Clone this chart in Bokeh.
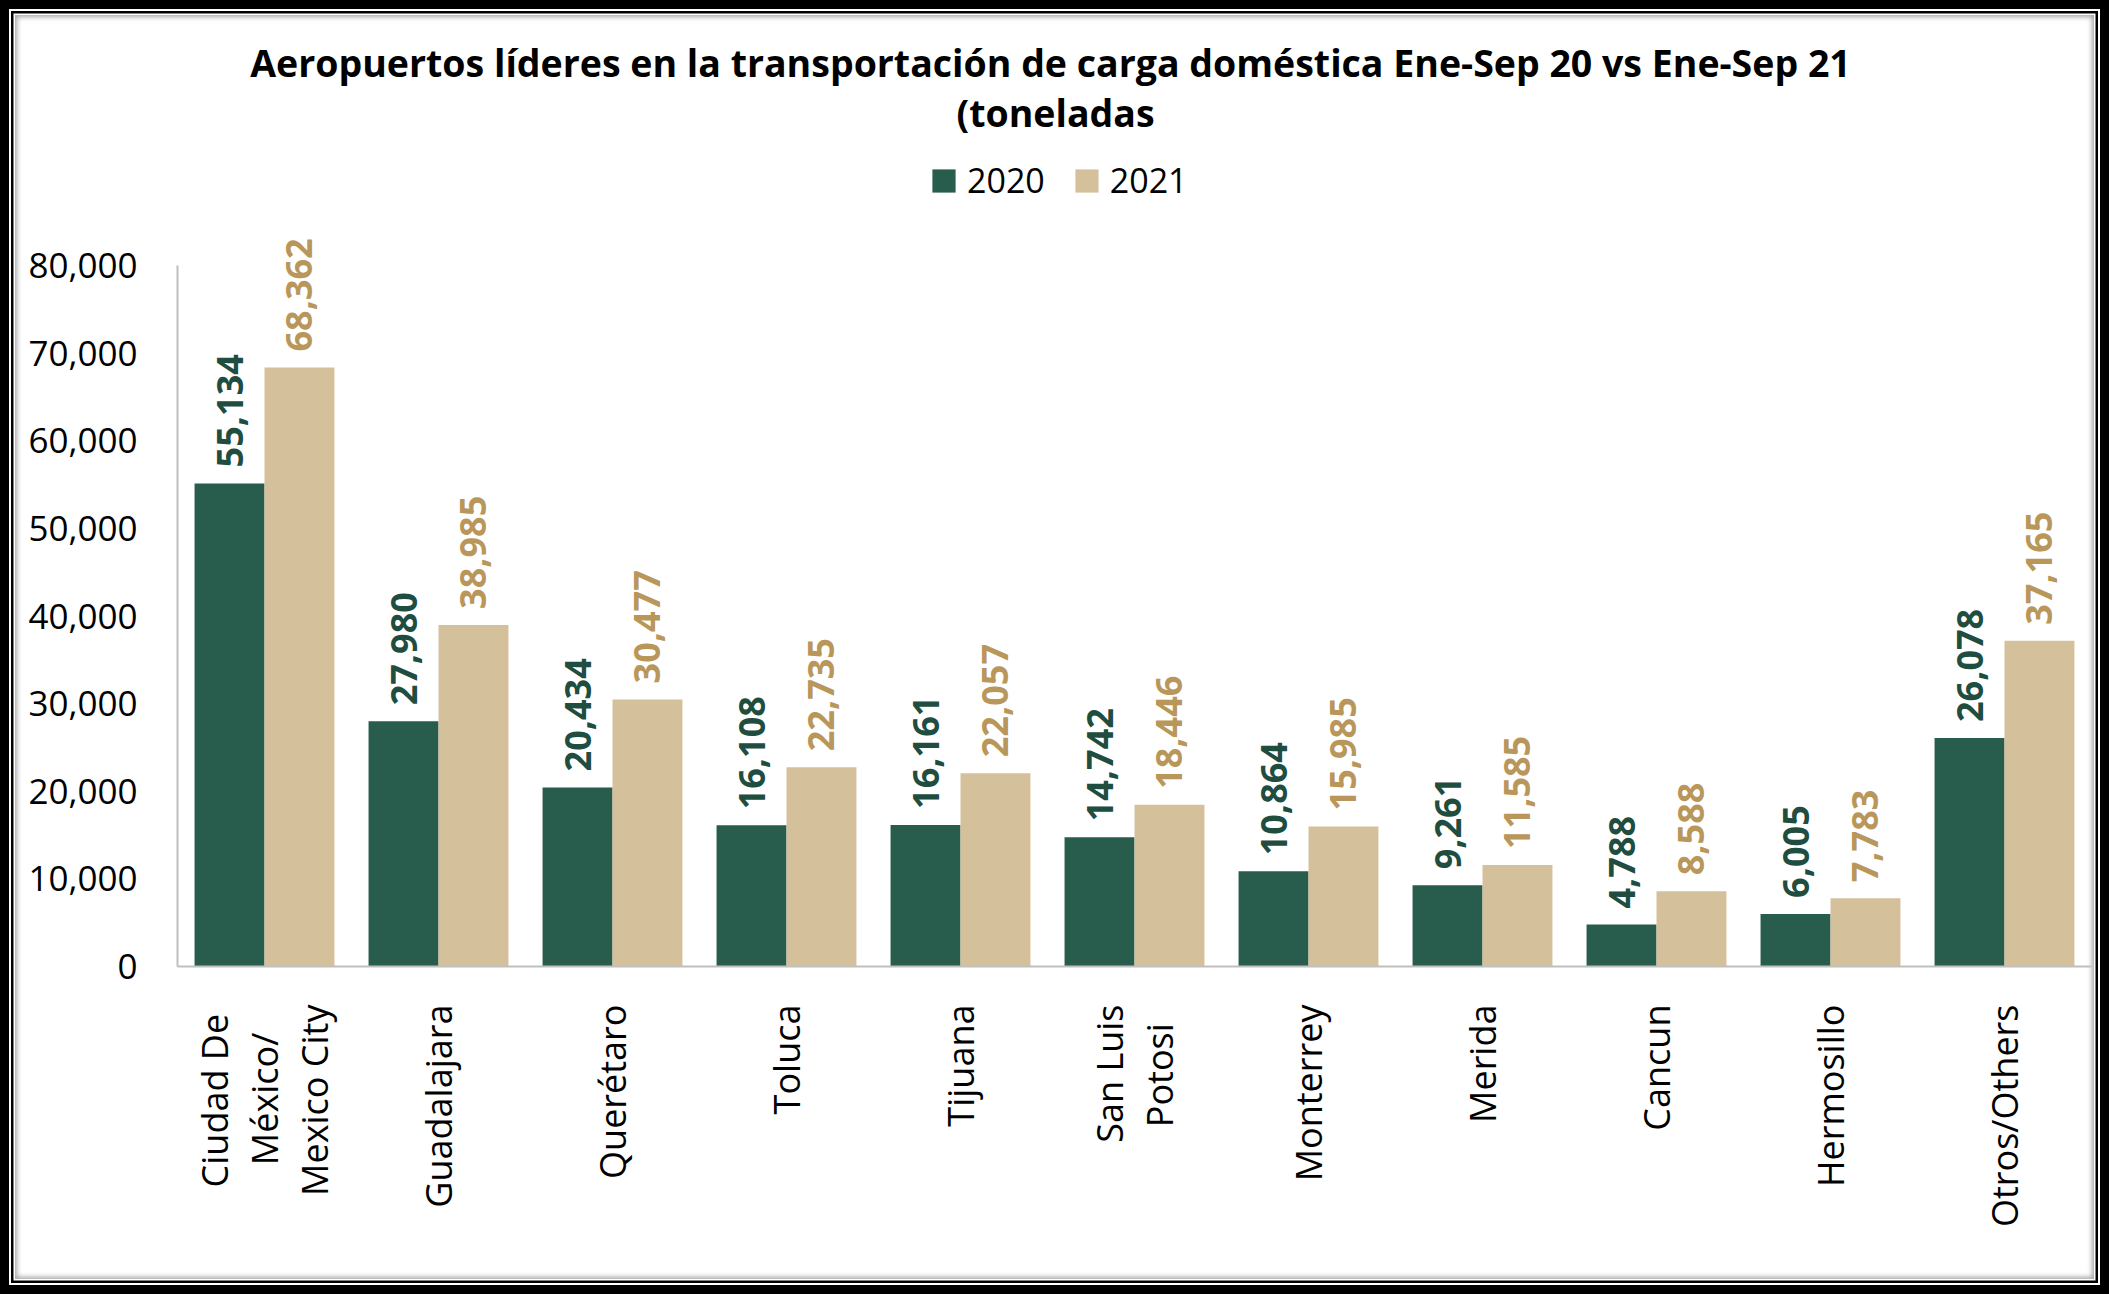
import math
from bokeh.plotting import figure
from bokeh.models import (ColumnDataSource, FactorRange, Range1d, FixedTicker,
                          NumeralTickFormatter, Label, Legend, LegendItem)
from bokeh.transform import dodge
from bokeh.core.properties import value
from bokeh.embed import file_html
from bokeh.resources import INLINE

# ---------------- data ----------------
NB = "\u00a0"
categories = ["Ciudad De" + NB + "\nMéxico/" + NB * 3 + "\nMexico City", "Guadalajara", "Querétaro",
              "Toluca", "Tijuana", "San Luis\nPotosi" + NB * 2, "Monterrey", "Merida", "Cancun",
              "Hermosillo", "Otros/Others"]
values_2020 = [55134, 27980, 20434, 16108, 16161, 14742, 10864, 9261, 4788, 6005, 26078]
values_2021 = [68362, 38985, 30477, 22735, 22057, 18446, 15985, 11585, 8588, 7783, 37165]
series_names = ["2020", "2021"]
y_ticks = [0, 10000, 20000, 30000, 40000, 50000, 60000, 70000, 80000]
title_line1 = "Aeropuertos líderes en la transportación de carga doméstica Ene-Sep 20 vs Ene-Sep 21"
title_line2 = "(toneladas"

# ---------------- style ----------------
C2020 = "#285C4D"
C2021 = "#D4C19C"
L2020 = "#1F4D3F"
L2021 = "#B9975B"
FONT = "Open Sans"

W, H = 2109, 1294
FL, FR, FT, FB = 177, 2091, 20, 966   # frame edges in canvas px
Y80 = 265                              # canvas y of the 80,000 line
y_end = 80000 * (FB - FT) / (FB - Y80)

fmt = lambda v: f"{v:,}"
src = ColumnDataSource(dict(
    cat=categories,
    v20=values_2020, v21=values_2021,
    t20=[fmt(v) for v in values_2020], t21=[fmt(v) for v in values_2021],
))

p = figure(x_range=FactorRange(factors=categories, range_padding=0),
           y_range=Range1d(0, y_end),
           frame_width=FR - FL, frame_height=FB - FT,
           min_border_left=FL, min_border_right=W - FR,
           min_border_top=FT, min_border_bottom=H - FB,
           output_backend="svg", toolbar_location=None,
           background_fill_color=None, border_fill_color=None)
p.outline_line_color = None
p.xgrid.grid_line_color = None
p.ygrid.grid_line_color = None
p.styles = {
    "background-color": "white",
    "box-shadow": ("inset 0 0 0 9px #000, inset 0 0 0 11px #fff, inset 0 0 0 13.5px #000, "
                   "inset 0 0 0 15px #fff, inset 0 0 5px 17px #a6a6a6"),
}

bw = 0.402
r20 = p.vbar(x=dodge("cat", -bw / 2, range=p.x_range), top="v20", width=bw,
             source=src, fill_color=C2020, line_color=None)
r21 = p.vbar(x=dodge("cat", bw / 2, range=p.x_range), top="v21", width=bw,
             source=src, fill_color=C2021, line_color=None)

p.text(x=dodge("cat", -bw / 2, range=p.x_range), y="v20", text="t20", source=src,
       angle=math.pi / 2, text_align="left", text_baseline="middle", y_offset=-16,
       text_font=value(FONT), text_font_style="bold", text_font_size="36px",
       text_color=L2020)
p.text(x=dodge("cat", bw / 2, range=p.x_range), y="v21", text="t21", source=src,
       angle=math.pi / 2, text_align="left", text_baseline="middle", y_offset=-16,
       text_font=value(FONT), text_font_style="bold", text_font_size="36px",
       text_color=L2021)

# axes
ya = p.yaxis[0]
ya.bounds = (0, 80000)
ya.ticker = FixedTicker(ticks=y_ticks)
ya.formatter = NumeralTickFormatter(format="0,0")
ya.axis_line_color = "#BFBFBF"
ya.axis_line_width = 2
ya.major_tick_line_color = None
ya.minor_tick_line_color = None
ya.major_tick_out = 0
ya.major_tick_in = 0
ya.major_label_standoff = 40
ya.major_label_text_font = FONT
ya.major_label_text_font_size = "35px"
ya.major_label_text_color = "black"

xa = p.xaxis[0]
xa.axis_line_color = "#BFBFBF"
xa.axis_line_width = 2
xa.major_tick_line_color = None
xa.major_tick_out = 0
xa.major_tick_in = 0
xa.major_label_standoff = 38
xa.major_label_orientation = math.pi / 2
xa.major_label_text_font = FONT
xa.major_label_text_font_size = "36px"
xa.major_label_text_color = "black"
xa.major_label_text_line_height = 1.02

# title (inside the frame area, above the 80,000 line)
for txt, cxp, base in ((title_line1, 1050, 62), (title_line2, 1055, 112)):
    p.add_layout(Label(x=cxp - FL, y=FB - base, x_units="screen", y_units="screen", text=txt,
                       text_align="center", text_baseline="alphabetic",
                       text_font=FONT, text_font_style="bold", text_font_size="37.5px",
                       text_color="black"))

# legend
legend = Legend(items=[LegendItem(label=series_names[0], renderers=[r20]),
                       LegendItem(label=series_names[1], renderers=[r21])],
                orientation="horizontal", location=(929 - FL, FB - 203),
                glyph_width=29, glyph_height=29, label_standoff=9, spacing=27,
                padding=0, margin=0, border_line_color=None,
                background_fill_alpha=0, label_text_font=FONT,
                label_text_font_size="34px", label_text_color="black",
                label_height=29, label_text_baseline="middle")
p.add_layout(legend, "center")

open("out.html", "w").write(file_html(p, INLINE))
